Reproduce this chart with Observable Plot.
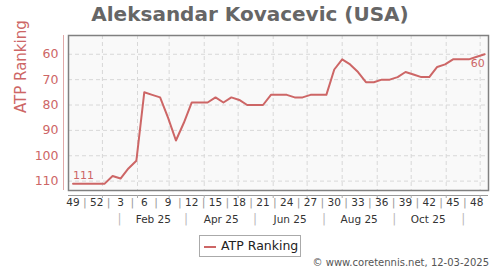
<!DOCTYPE html>
<html>
<head>
<meta charset="utf-8">
<script src="https://cdn.jsdelivr.net/npm/d3@7"></script>
<script src="https://cdn.jsdelivr.net/npm/@observablehq/plot@0.6"></script>
<style>
  body { margin: 0; background: #fff; font-family: "DejaVu Sans", sans-serif; }
  #wrap { position: relative; width: 500px; height: 270px; overflow: hidden; }
  #title { position: absolute; left: 0; top: 0; width: 500px; height: 28px; line-height: 28px; text-align: center; font-size: 20px; font-weight: bold; color: #666; white-space: nowrap; }
  #chart { position: absolute; left: 0; top: 28px; }
  #legend { position: absolute; left: 199px; top: 235px; width: 100px; height: 20px; border: 1px solid #aaa; background: #fff; font-size: 12.5px; color: #222; line-height: 20px; white-space: nowrap; }
  #legend .sw { position: absolute; left: 4px; top: 10px; width: 12px; height: 2px; background: #cd6666; }
  #legend .lb { position: absolute; left: 21px; top: 0; }
  #caption { position: absolute; right: 11px; top: 257px; font-size: 10px; color: #555; white-space: nowrap; }
</style>
</head>
<body>
<div id="wrap">
  <div id="title">Aleksandar Kovacevic (USA)</div>
  <div id="chart"></div>
  <div id="legend"><span class="sw"></span><span class="lb">ATP Ranking</span></div>
  <div id="caption">© www.coretennis.net, 12-03-2025</div>
</div>
<script>
// Weekly ATP ranking, first week = week 49 of 2024
const ranks = [111,111,111,111,111,108,109,105,102,75,76,77,85,94,87,79,79,79,77,79,77,78,80,80,80,76,76,76,77,77,76,76,76,66,62,64,67,71,71,70,70,69,67,68,69,69,65,64,62,62,62,61,60];
const weekTicks = [49,52,3,6,9,12,15,18,21,24,27,30,33,36,39,42,45,48];
const monthLabels = ["Feb 25","Apr 25","Jun 25","Aug 25","Oct 25"];
const monthLabelDates = ["2025-02-15","2025-04-16","2025-06-16","2025-08-16","2025-10-16"];
const monthSepDates = ["2025-01-16","2025-03-16","2025-05-16","2025-07-16","2025-09-16","2025-11-16"];
const gridMonths = ["2025-01-01","2025-02-01","2025-03-01","2025-04-01","2025-05-01","2025-06-01","2025-07-01","2025-08-01","2025-09-01","2025-10-01","2025-11-01","2025-12-01"];
const yTicks = [60,70,80,90,100,110];

const red = "#cd6666";
const day = 864e5;
const start = Date.UTC(2024, 11, 6);
const data = ranks.map((r, i) => ({date: new Date(start + i * 7 * day), rank: r}));
const weekTickData = weekTicks.map((w, k) => ({date: new Date(start + k * 21 * day), label: String(w)}));
const weekSeps = weekTicks.slice(0, -1).map((w, k) => ({date: new Date(start + (k * 21 + 10.5) * day)}));
const monthLabelData = monthLabels.map((m, i) => ({date: new Date(monthLabelDates[i]), label: m}));
const monthSeps = monthSepDates.map(d => ({date: new Date(d)}));
const gridDates = gridMonths.map(d => new Date(d));
const xDomain = [new Date(Date.UTC(2024, 11, 2)), new Date(Date.UTC(2025, 11, 8, 9))];
const yDomain = [113.7, 52.6];

const chart = Plot.plot({
  width: 500,
  height: 200,
  marginTop: 7,
  marginBottom: 38,
  marginLeft: 68,
  marginRight: 12,
  style: {fontFamily: "DejaVu Sans", fontSize: "10px", background: "transparent", overflow: "visible"},
  x: {type: "utc", domain: xDomain, axis: null},
  y: {domain: yDomain, axis: null},
  marks: [
    Plot.frame({fill: "#f9f9f9", stroke: "none"}),
    Plot.gridY(yTicks, {stroke: "#d8d8d8", strokeOpacity: 1, strokeDasharray: "4,3"}),
    Plot.gridX(gridDates, {stroke: "#d8d8d8", strokeOpacity: 1, strokeDasharray: "4,3"}),
    Plot.frame({stroke: "#808080", strokeWidth: 1.5}),
    Plot.axisY({ticks: yTicks, tickSize: 0, tickPadding: 10, fill: red, fontSize: 12.5, label: null}),
    Plot.text(["ATP Ranking"], {frameAnchor: "left", rotate: -90, dx: -47, fill: red, fontSize: 15}),
    Plot.ruleX([xDomain[0]], {dx: -5, stroke: "#e0a8a8", strokeWidth: 1}),
    Plot.ruleY([yDomain[0]], {dy: 5, stroke: "#999", strokeWidth: 1.2}),
    Plot.axisX({ticks: gridDates, tickSize: 3, tickFormat: () => "", dy: 5, stroke: "#aaa", label: null}),
    Plot.text(weekTickData, {x: "date", text: "label", frameAnchor: "bottom", dy: 15, fill: "#333", fontSize: 10.5}),
    Plot.text(weekSeps, {x: "date", text: () => "|", frameAnchor: "bottom", dy: 15, fill: "#999", fontSize: 11}),
    Plot.text(monthLabelData, {x: "date", text: "label", frameAnchor: "bottom", dy: 32, fill: "#333", fontSize: 10.5}),
    Plot.text(monthSeps, {x: "date", text: () => "|", frameAnchor: "bottom", dy: 32, fill: "#bbb", fontSize: 12}),
    Plot.line(data, {x: "date", y: "rank", stroke: red, strokeWidth: 2}),
    Plot.text([data[0]], {x: "date", y: "rank", text: d => String(d.rank), textAnchor: "start", dy: -8, fill: red, fontSize: 11}),
    Plot.text([data[data.length - 1]], {x: "date", y: "rank", text: d => String(d.rank), textAnchor: "end", dy: 9, fill: red, fontSize: 11})
  ]
});
document.getElementById("chart").appendChild(chart);
</script>
</body>
</html>
